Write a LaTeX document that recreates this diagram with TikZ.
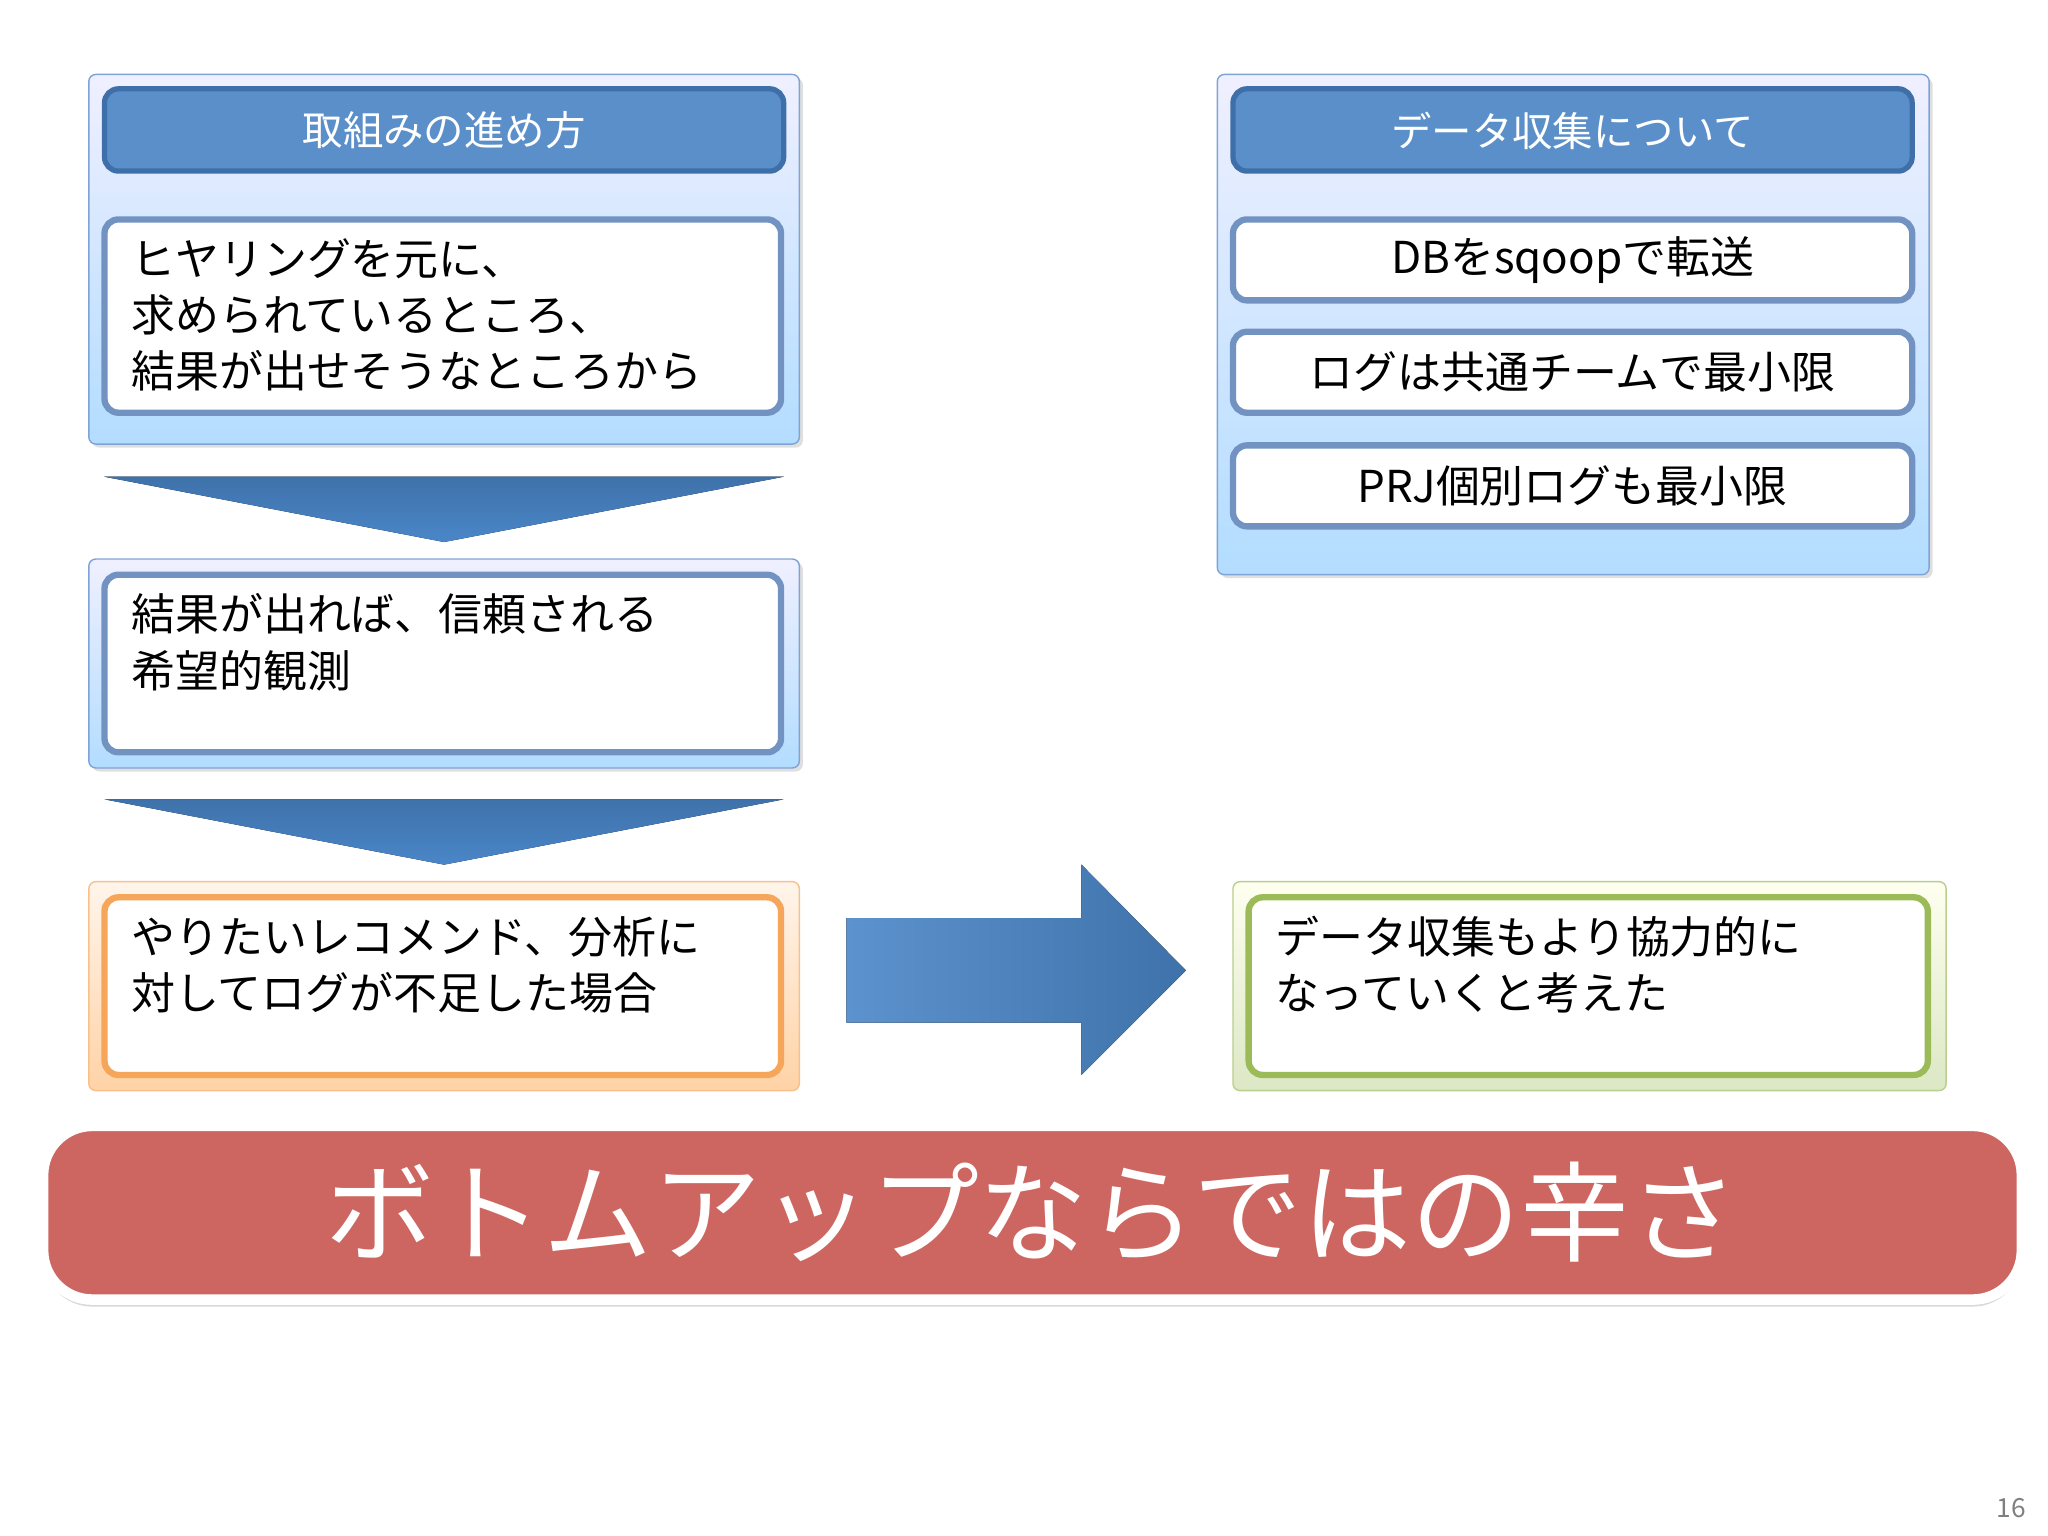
\documentclass[tikz,border=0pt]{standalone}
\usepackage{fontspec}
\setmainfont{Noto Sans CJK JP}
\usetikzlibrary{shadows}
\definecolor{pbd}{HTML}{7FA3D6}
\definecolor{hdr}{HTML}{5B8FC9}
\definecolor{hdrb}{HTML}{3F6FA8}
\definecolor{arr}{HTML}{4A86C8}
\definecolor{orb}{HTML}{F5A65B}
\definecolor{grb}{HTML}{9BBB59}
\definecolor{redf}{HTML}{CD6660}
\tikzset{
 bluepanel/.style={draw=pbd,rounded corners=2pt,top color=blue!6!white,bottom color=blue!45!cyan!30!white,drop shadow={opacity=0.25,shadow xshift=1pt,shadow yshift=-1pt}},
 orpanel/.style={draw=orb!70,rounded corners=2pt,top color=orange!8!white,bottom color=orange!35!white},
 grpanel/.style={draw=grb!70,rounded corners=2pt,top color=green!4!yellow!6!white,bottom color=grb!35!white},
 hdrbox/.style={draw=hdrb,line width=1.5pt,fill=hdr,rounded corners=4pt},
 inbox/.style={draw=pbd!90!black,line width=1.8pt,fill=white,rounded corners=4pt},
 bodytxt/.style={font=\fontsize{12.5}{16}\selectfont,align=left,anchor=north west,inner sep=0pt},
 ctxt/.style={font=\fontsize{12.5}{16}\selectfont},
 chev/.style={top color=arr!85!black,bottom color=arr,draw=none},
}
\begin{document}
\begin{tikzpicture}[x=0.013061cm,y=-0.013061cm]
\useasboundingbox (0,0) rectangle (1568,1176);
% left panel 1
\draw[bluepanel] (68,57) rectangle (612,340);
\draw[hdrbox] (80,68) rectangle (600,131);
\node[text=white,font=\fontsize{11.5}{14}\selectfont] (h1t) at (340,100) {取組みの進め方};
\draw[inbox] (80,168) rectangle (598,316);
\node[bodytxt] (t1) at (100,182) {ヒヤリングを元に、\\求められているところ、\\結果が出せそうなところから};
\fill[chev] (80,365) -- (600,365) -- (340,415) -- cycle;
% panel 2
\draw[bluepanel] (68,428) rectangle (612,588);
\draw[inbox] (80,440) rectangle (598,576);
\node[bodytxt] (t2) at (100,454) {結果が出れば、信頼される\\希望的観測};
\fill[chev] (80,612) -- (600,612) -- (340,662) -- cycle;
% panel 3
\draw[orpanel] (68,675) rectangle (612,835);
\draw[draw=orb,line width=1.8pt,fill=white,rounded corners=4pt] (80,687) rectangle (598,823);
\node[bodytxt] (t3) at (100,701) {やりたいレコメンド、分析に\\対してログが不足した場合};
% big arrow
\fill[left color=arr!90!white,right color=arr!85!black] (648,703) -- (828,703) -- (828,662) -- (908,743) -- (828,823) -- (828,783) -- (648,783) -- cycle;
% green
\draw[grpanel] (944,675) rectangle (1490,835);
\draw[draw=grb,line width=1.8pt,fill=white,rounded corners=4pt] (956,687) rectangle (1476,823);
\node[bodytxt] (t4) at (976,701) {データ収集もより協力的に\\なっていくと考えた};
% right panel
\draw[bluepanel] (932,57) rectangle (1477,440);
\draw[hdrbox] (944,68) rectangle (1464,131);
\node[text=white,font=\fontsize{11.5}{14}\selectfont] (h2) at (1204,100) {データ収集について};
\draw[inbox] (944,168) rectangle (1464,230);
\node[ctxt] (r1) at (1204,199) {DBをsqoopで転送};
\draw[inbox] (944,254) rectangle (1464,316);
\node[ctxt] (r2) at (1204,285) {ログは共通チームで最小限};
\draw[inbox] (944,341) rectangle (1464,403);
\node[ctxt] (r3) at (1204,372) {PRJ個別ログも最小限};
% bottom red
\draw[draw=white,line width=3pt,fill=redf,rounded corners=14pt,drop shadow={opacity=0.3,shadow xshift=0pt,shadow yshift=-2pt}] (33,862) rectangle (1548,995);
\node[text=white,font=\fontsize{31}{36}\selectfont] (big) at (790,928) {ボトムアップならではの辛さ};
\node[text=gray,font=\fontsize{7.5}{9}\selectfont] (pg) at (1540,1155) {16};
\end{tikzpicture}
\end{document}
